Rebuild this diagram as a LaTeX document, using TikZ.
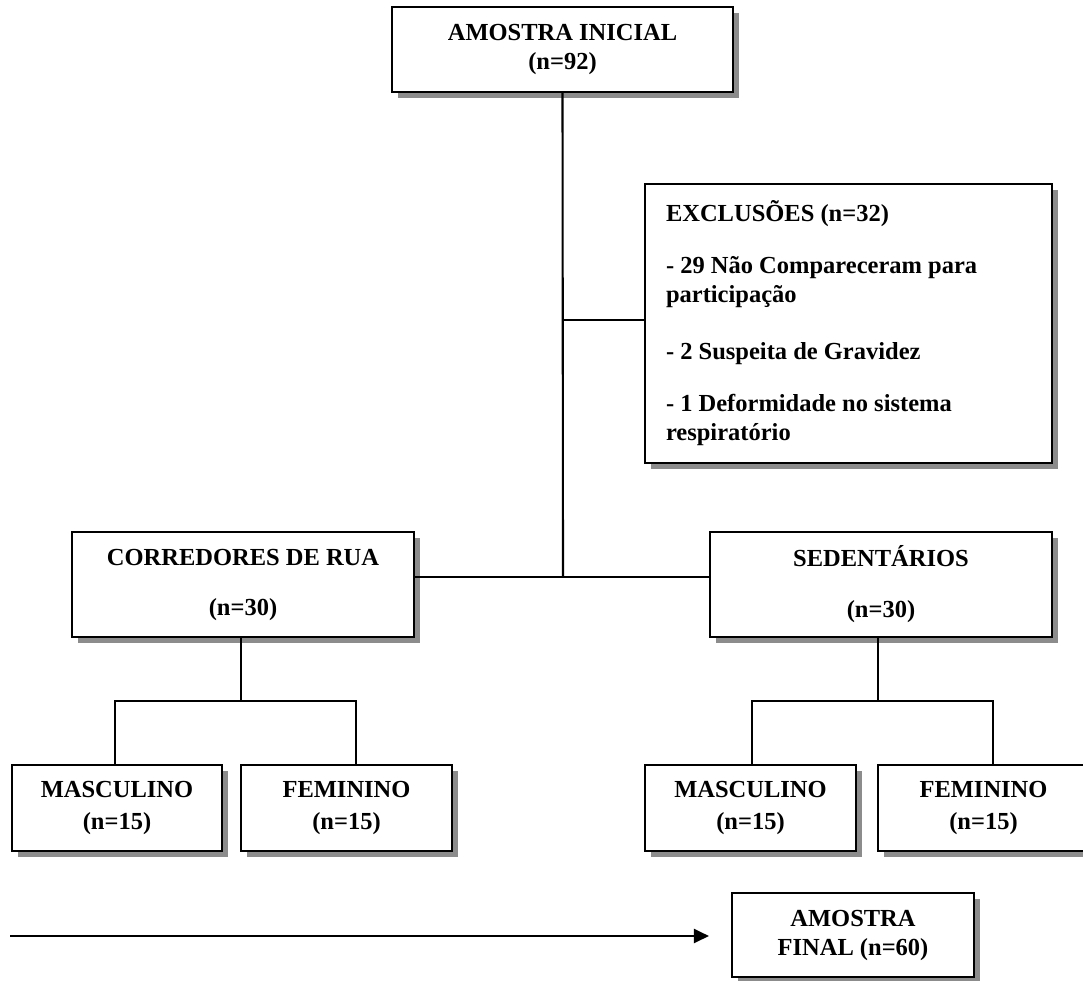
\documentclass[tikz,border=0pt]{standalone}
\usepackage{fontspec}
\setmainfont{Liberation Serif}
\usetikzlibrary{shadows,arrows.meta}
\begin{document}
\begin{tikzpicture}[x=1pt,y=-1pt,
  box/.style={draw=black, line width=2.1pt, fill=white, align=center, inner sep=0pt,
    font=\fontsize{24.5}{29}\selectfont\bfseries,
    drop shadow={shadow xshift=6pt, shadow yshift=-6pt, fill=black!45, opacity=1}},
  conn/.style={line width=2.1pt, draw=black}]
\useasboundingbox (0,0) rectangle (1083,981);

\node[box, minimum width=341pt, minimum height=85pt] (top) at (562.5,49.5) {AMOSTRA INICIAL\\(n=92)};
\node[box, minimum width=407pt, minimum height=279pt, align=flush left, text width=365pt, inner xsep=21pt] (excl) at (848.5,323.5)
  {EXCLUSÕES (n=32)\\[23pt]- 29 Não Compareceram para\\participação\\[28pt]- 2 Suspeita de Gravidez\\[23pt]- 1 Deformidade no sistema\\respiratório};
\node[box, minimum width=342pt, minimum height=105pt] (corr) at (243,584.5) {CORREDORES DE RUA\\[21pt](n=30)};
\node[box, minimum width=342pt, minimum height=105pt] (sed) at (881,584.5) {SEDENTÁRIOS\\[22pt](n=30)};
\node[box, minimum width=210pt, minimum height=86pt] (m1) at (117,808) {MASCULINO\\[3pt](n=15)};
\node[box, minimum width=211pt, minimum height=86pt] (f1) at (346.5,808) {FEMININO\\[3pt](n=15)};
\node[box, minimum width=211pt, minimum height=86pt] (m2) at (750.5,808) {MASCULINO\\[3pt](n=15)};
\node[box, minimum width=211pt, minimum height=86pt] (f2) at (983.5,808) {FEMININO\\[3pt](n=15)};
\node[box, minimum width=242pt, minimum height=84pt] (fin) at (853,935) {AMOSTRA\\FINAL (n=60)};

% main trunk
\coordinate (J) at (563,577);
\coordinate (B) at (563,320);
\draw[conn] (top.south) -- (J);
\draw[conn] (B) -- (B -| excl.west);
\draw[conn] (corr.east |- J) -- (sed.west |- J);

% left branch
\coordinate (cL) at (241,701);
\coordinate (cM) at (115,701);
\coordinate (cF) at (356,701);
\draw[conn] (cL |- corr.south) -- (cL);
\draw[conn] (cM |- m1.north) -- (cM) -- (cF) -- (cF |- f1.north);

% right branch
\coordinate (sL) at (878,701);
\coordinate (sM) at (752,701);
\coordinate (sF) at (993,701);
\draw[conn] (sL |- sed.south) -- (sL);
\draw[conn] (sM |- m2.north) -- (sM) -- (sF) -- (sF |- f2.north);

% final arrow
\coordinate (S) at (10,936);
\draw[conn, -{Triangle[length=15pt,width=14pt]}] (S) -- ([xshift=-22pt]fin.west |- S);
\end{tikzpicture}
\end{document}
